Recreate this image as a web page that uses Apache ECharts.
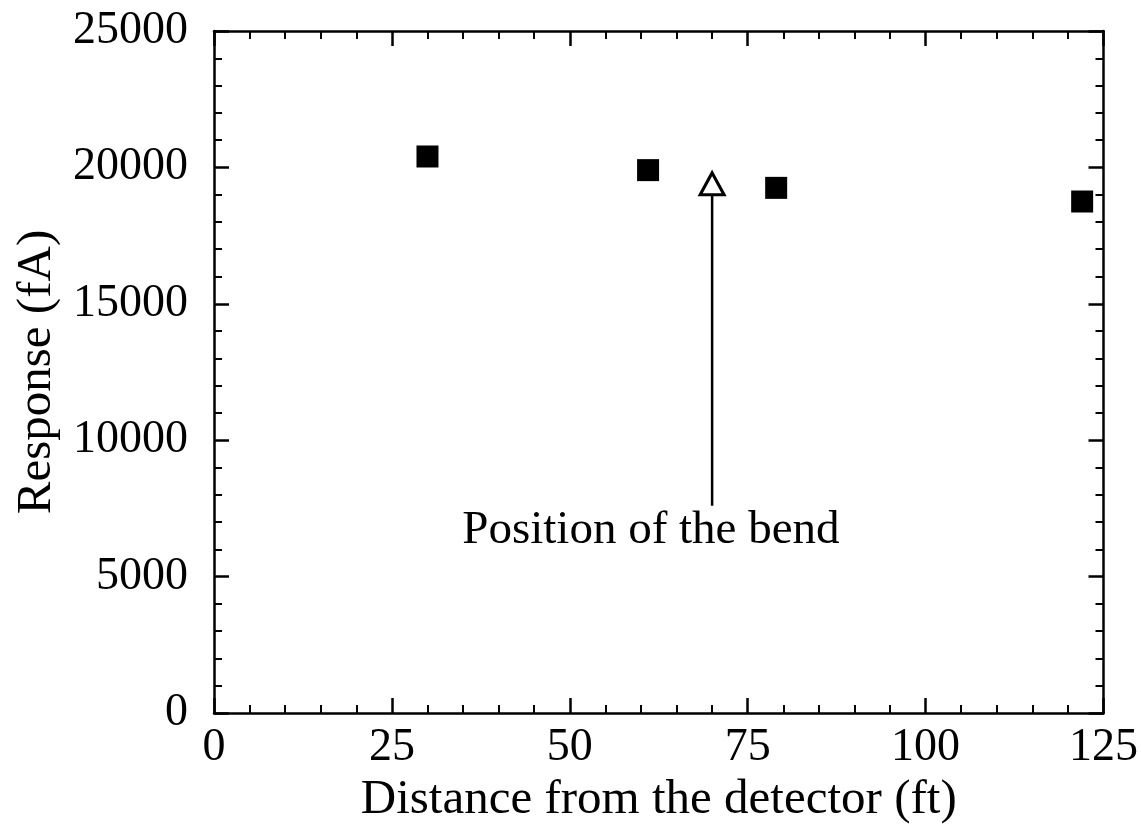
<!DOCTYPE html>
<html>
<head>
<meta charset="utf-8">
<script src="https://cdn.jsdelivr.net/npm/echarts@6/dist/echarts.min.js"></script>
<style>
html,body{margin:0;padding:0;background:#fff;}
#chart{width:1141px;height:835px;}
</style>
</head>
<body>
<div id="chart"></div>
<script>
// Data
var distances = [30, 61, 79, 122];
var responses = [20400, 19900, 19250, 18750];
var bendPosition = [70];
var bendMarkerValue = [19400];
var arrowFrom = [7600];
var arrowTo = [19050];
var annotationText = ['Position of the bend'];
var annotationAt = [61.4, 6700];
var xTicks = [0, 25, 50, 75, 100, 125];
var yTicks = [0, 5000, 10000, 15000, 20000, 25000];

var FONT = '"Liberation Serif", "DejaVu Serif", serif';

var squarePts = distances.map(function (d, i) { return [d, responses[i]]; });

var chart = echarts.init(document.getElementById('chart'), null, {renderer: 'canvas'});

var commonAxisLine = {show: true, onZero: false, lineStyle: {color: '#000', width: 2.5}};
var commonTick = {show: true, inside: true, length: 15, lineStyle: {color: '#000', width: 2.5}};
var commonMinor = {show: true, splitNumber: 5, length: 8, lineStyle: {color: '#000', width: 2}};
var plain = function (v) { return String(v); };

var option = {
  backgroundColor: '#fff',
  animation: false,
  grid: {left: 214, right: 37, top: 31, bottom: 122, containLabel: false},
  xAxis: [{
    type: 'value', min: xTicks[0], max: xTicks[xTicks.length - 1], interval: 25,
    position: 'bottom',
    name: 'Distance from the detector (ft)', nameLocation: 'middle', nameGap: 58,
    nameTextStyle: {fontFamily: FONT, fontSize: 49, color: '#000'},
    axisLine: commonAxisLine, axisTick: commonTick, minorTick: commonMinor,
    splitLine: {show: false},
    axisLabel: {fontFamily: FONT, fontSize: 46, color: '#000', margin: 12, formatter: plain}
  }, {
    type: 'value', min: xTicks[0], max: xTicks[xTicks.length - 1], interval: 25,
    position: 'top',
    axisLine: commonAxisLine, axisTick: commonTick, minorTick: commonMinor,
    splitLine: {show: false}, axisLabel: {show: false}
  }],
  yAxis: [{
    type: 'value', min: yTicks[0], max: yTicks[yTicks.length - 1], interval: 5000,
    position: 'left',
    name: 'Response (fA)', nameLocation: 'middle', nameGap: 148, nameRotate: 90,
    nameTextStyle: {fontFamily: FONT, fontSize: 49, color: '#000'},
    axisLine: commonAxisLine, axisTick: commonTick, minorTick: commonMinor,
    splitLine: {show: false},
    axisLabel: {fontFamily: FONT, fontSize: 46, color: '#000', margin: 26, formatter: plain}
  }, {
    type: 'value', min: yTicks[0], max: yTicks[yTicks.length - 1], interval: 5000,
    position: 'right',
    axisLine: commonAxisLine, axisTick: commonTick, minorTick: commonMinor,
    splitLine: {show: false}, axisLabel: {show: false}
  }],
  series: [{
    type: 'scatter',
    data: squarePts,
    symbol: 'rect', symbolSize: 22,
    itemStyle: {color: '#000', opacity: 1},
    z: 5
  }, {
    type: 'line',
    data: [[bendPosition[0], arrowFrom[0]], [bendPosition[0], arrowTo[0]]],
    symbol: 'none',
    lineStyle: {color: '#000', width: 2.5},
    z: 4
  }, {
    type: 'scatter',
    data: [[bendPosition[0], bendMarkerValue[0]]],
    symbol: 'triangle', symbolSize: [24, 22],
    itemStyle: {color: '#fff', borderColor: '#000', borderWidth: 3, opacity: 1},
    z: 6
  }, {
    type: 'scatter',
    data: [annotationAt],
    symbolSize: 0,
    itemStyle: {opacity: 1},
    label: {
      show: true, position: 'inside',
      formatter: annotationText[0],
      fontFamily: FONT, fontSize: 47, color: '#000'
    },
    z: 6
  }]
};
chart.setOption(option);
</script>
</body>
</html>
